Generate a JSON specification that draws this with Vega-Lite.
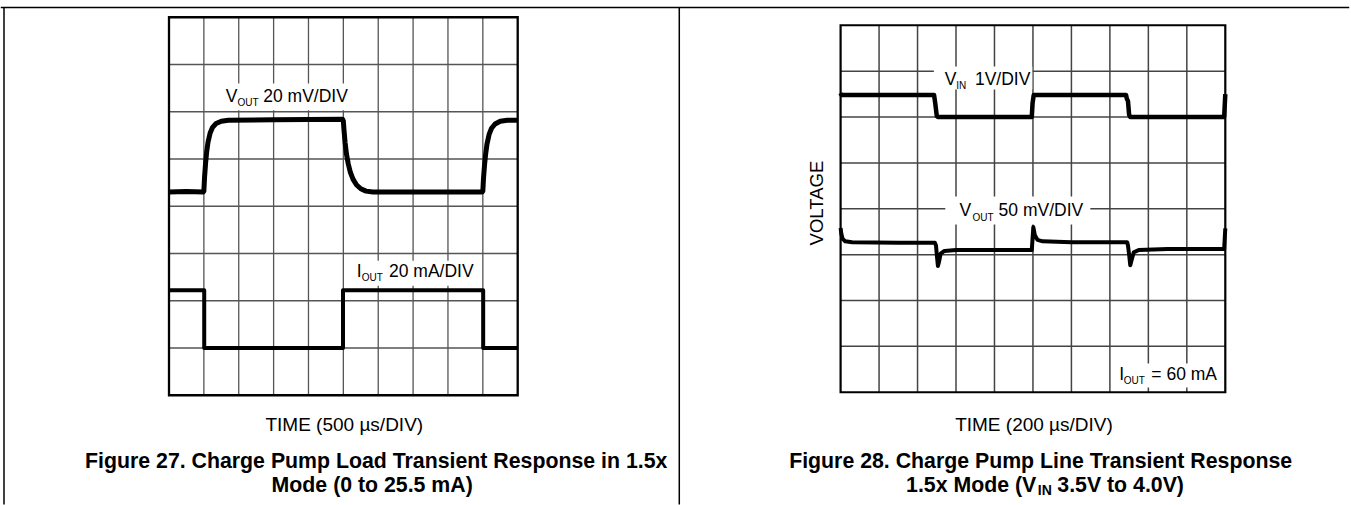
{
  "$schema": "https://vega.github.io/schema/vega-lite/v6.json",
  "padding": {"left": 0, "top": 6.25, "right": 0, "bottom": 0},
  "autosize": {"type": "pad"},
  "bounds": "flush",
  "spacing": 322.6,
  "background": "white",
  "config": {"view": {"stroke": null}, "font": "Liberation Sans"},
  "datasets": {
    "vg": [{"v": 1}, {"v": 2}, {"v": 3}, {"v": 4}, {"v": 5}, {"v": 6}, {"v": 7}, {"v": 8}, {"v": 9}],
    "hg": [{"v": 1}, {"v": 2}, {"v": 3}, {"v": 4}, {"v": 5}, {"v": 6}, {"v": 7}],
    "trL": [
      {"s": "V", "x": 0, "y": 4.30}, {"s": "V", "x": 0.5, "y": 4.31}, {"s": "V", "x": 0.98, "y": 4.30},
      {"s": "V", "x": 1.0, "y": 4.32}, {"s": "V", "x": 1.02, "y": 4.62}, {"s": "V", "x": 1.05, "y": 4.92},
      {"s": "V", "x": 1.08, "y": 5.15}, {"s": "V", "x": 1.12, "y": 5.36}, {"s": "V", "x": 1.18, "y": 5.55},
      {"s": "V", "x": 1.25, "y": 5.67}, {"s": "V", "x": 1.35, "y": 5.75}, {"s": "V", "x": 1.5, "y": 5.80},
      {"s": "V", "x": 1.7, "y": 5.82}, {"s": "V", "x": 3.0, "y": 5.83}, {"s": "V", "x": 4.98, "y": 5.84},
      {"s": "V", "x": 5.0, "y": 5.80}, {"s": "V", "x": 5.02, "y": 5.60}, {"s": "V", "x": 5.05, "y": 5.35},
      {"s": "V", "x": 5.09, "y": 5.10}, {"s": "V", "x": 5.14, "y": 4.90}, {"s": "V", "x": 5.2, "y": 4.72},
      {"s": "V", "x": 5.28, "y": 4.57}, {"s": "V", "x": 5.38, "y": 4.45}, {"s": "V", "x": 5.5, "y": 4.37},
      {"s": "V", "x": 5.65, "y": 4.32}, {"s": "V", "x": 5.85, "y": 4.30}, {"s": "V", "x": 7.5, "y": 4.30},
      {"s": "V", "x": 8.98, "y": 4.30}, {"s": "V", "x": 9.0, "y": 4.32}, {"s": "V", "x": 9.02, "y": 4.60},
      {"s": "V", "x": 9.05, "y": 4.88}, {"s": "V", "x": 9.08, "y": 5.10}, {"s": "V", "x": 9.12, "y": 5.32},
      {"s": "V", "x": 9.18, "y": 5.52}, {"s": "V", "x": 9.25, "y": 5.65}, {"s": "V", "x": 9.35, "y": 5.74},
      {"s": "V", "x": 9.5, "y": 5.80}, {"s": "V", "x": 9.7, "y": 5.82}, {"s": "V", "x": 10, "y": 5.82},
      {"s": "I", "x": 0, "y": 2.22}, {"s": "I", "x": 1.01, "y": 2.22}, {"s": "I", "x": 1.01, "y": 1.0},
      {"s": "I", "x": 4.99, "y": 1.0}, {"s": "I", "x": 4.99, "y": 2.22}, {"s": "I", "x": 9.01, "y": 2.22},
      {"s": "I", "x": 9.01, "y": 1.0}, {"s": "I", "x": 10, "y": 1.0}
    ],
    "trR": [
      {"s": "VIN", "x": 0, "y": 6.52}, {"s": "VIN", "x": 0.02, "y": 6.48}, {"s": "VIN", "x": 2.43, "y": 6.48},
      {"s": "VIN", "x": 2.46, "y": 6.30}, {"s": "VIN", "x": 2.5, "y": 6.02}, {"s": "VIN", "x": 2.53, "y": 6.0},
      {"s": "VIN", "x": 4.97, "y": 6.0}, {"s": "VIN", "x": 4.99, "y": 6.30}, {"s": "VIN", "x": 5.02, "y": 6.48},
      {"s": "VIN", "x": 7.42, "y": 6.48}, {"s": "VIN", "x": 7.44, "y": 6.40}, {"s": "VIN", "x": 7.47, "y": 6.35},
      {"s": "VIN", "x": 7.5, "y": 6.05}, {"s": "VIN", "x": 7.53, "y": 6.0}, {"s": "VIN", "x": 9.97, "y": 6.0},
      {"s": "VIN", "x": 10, "y": 6.5},
      {"s": "VOUT", "x": 0, "y": 3.58}, {"s": "VOUT", "x": 0.02, "y": 3.45}, {"s": "VOUT", "x": 0.05, "y": 3.35},
      {"s": "VOUT", "x": 0.12, "y": 3.29}, {"s": "VOUT", "x": 0.3, "y": 3.27}, {"s": "VOUT", "x": 1.5, "y": 3.26},
      {"s": "VOUT", "x": 2.45, "y": 3.26}, {"s": "VOUT", "x": 2.48, "y": 3.20}, {"s": "VOUT", "x": 2.5, "y": 3.0},
      {"s": "VOUT", "x": 2.53, "y": 2.75}, {"s": "VOUT", "x": 2.56, "y": 2.85}, {"s": "VOUT", "x": 2.6, "y": 3.02},
      {"s": "VOUT", "x": 2.7, "y": 3.08}, {"s": "VOUT", "x": 3.0, "y": 3.10}, {"s": "VOUT", "x": 4.97, "y": 3.10},
      {"s": "VOUT", "x": 4.99, "y": 3.35}, {"s": "VOUT", "x": 5.01, "y": 3.60}, {"s": "VOUT", "x": 5.05, "y": 3.42},
      {"s": "VOUT", "x": 5.12, "y": 3.32}, {"s": "VOUT", "x": 5.25, "y": 3.29}, {"s": "VOUT", "x": 6.0, "y": 3.27},
      {"s": "VOUT", "x": 7.45, "y": 3.27}, {"s": "VOUT", "x": 7.47, "y": 3.20}, {"s": "VOUT", "x": 7.5, "y": 3.0},
      {"s": "VOUT", "x": 7.53, "y": 2.77}, {"s": "VOUT", "x": 7.57, "y": 2.90}, {"s": "VOUT", "x": 7.62, "y": 3.05},
      {"s": "VOUT", "x": 7.75, "y": 3.10}, {"s": "VOUT", "x": 8.5, "y": 3.12}, {"s": "VOUT", "x": 9.97, "y": 3.12},
      {"s": "VOUT", "x": 10, "y": 3.57}
    ],
    "maskL": [
      {"x1": 1.55, "x2": 5.25, "y1": 6.03, "y2": 6.597},
      {"x1": 5.33, "x2": 8.89, "y1": 2.32, "y2": 2.847}
    ],
    "maskR": [
      {"x1": 2.425, "x2": 4.983, "y1": 6.6, "y2": 7.1},
      {"x1": 2.722, "x2": 6.491, "y1": 3.656, "y2": 4.266},
      {"x1": 7.14, "x2": 9.92, "y1": 0.102, "y2": 0.626}
    ],
    "textL": [
      {"k": "main", "x": 1.626, "y": 6.216, "t": "V"},
      {"k": "sub", "x": 1.964, "y": 6.13, "t": "OUT"},
      {"k": "main", "x": 2.704, "y": 6.216, "t": "20 mV/DIV"},
      {"k": "main", "x": 5.383, "y": 2.497, "t": "I"},
      {"k": "sub", "x": 5.529, "y": 2.413, "t": "OUT"},
      {"k": "main", "x": 6.309, "y": 2.497, "t": "20 mA/DIV"},
      {"k": "time", "x": 5.027, "y": -0.762, "t": "TIME (500 µs/DIV)"},
      {"k": "cap", "x": 5.942, "y": -1.537, "t": "Figure 27. Charge Pump Load Transient Response in 1.5x"},
      {"k": "cap", "x": 5.827, "y": -2.053, "t": "Mode (0 to 25.5 mA)"}
    ],
    "textR": [
      {"k": "main", "x": 2.706, "y": 6.707, "t": "V"},
      {"k": "sub", "x": 3.008, "y": 6.62, "t": "IN"},
      {"k": "main", "x": 3.491, "y": 6.707, "t": "1V/DIV"},
      {"k": "main", "x": 3.093, "y": 3.837, "t": "V"},
      {"k": "sub", "x": 3.431, "y": 3.743, "t": "OUT"},
      {"k": "main", "x": 4.107, "y": 3.837, "t": "50 mV/DIV"},
      {"k": "main", "x": 7.245, "y": 0.277, "t": "I"},
      {"k": "sub", "x": 7.362, "y": 0.183, "t": "OUT"},
      {"k": "main", "x": 8.077, "y": 0.277, "t": "= 60 mA"},
      {"k": "time", "x": 5.027, "y": -0.835, "t": "TIME (200 µs/DIV)"},
      {"k": "cap", "x": 5.2, "y": -1.648, "t": "Figure 28. Charge Pump Line Transient Response"},
      {"k": "capend", "x": 5.0858, "y": -2.18, "t": "1.5x Mode (V"},
      {"k": "capsub", "x": 5.126, "y": -2.237, "t": "IN"},
      {"k": "capstart", "x": 5.633, "y": -2.18, "t": "3.5V to 4.0V)"},
      {"k": "ylab", "x": -0.606, "y": 4.124, "t": "VOLTAGE"}
    ]
  },
  "hconcat": [
    {
      "width": 348.7,
      "height": 378,
      "layer": [
        {"data": {"name": "vg"}, "mark": {"type": "rule", "color": "#555", "strokeWidth": 1.3},
         "encoding": {"x": {"field": "v", "type": "quantitative", "scale": {"domain": [0, 10], "nice": false, "zero": false}, "axis": null},
                      "y": {"datum": 0, "type": "quantitative", "scale": {"domain": [0, 8], "nice": false, "zero": false}, "axis": null},
                      "y2": {"datum": 8}}},
        {"data": {"name": "hg"}, "mark": {"type": "rule", "color": "#555", "strokeWidth": 1.3},
         "encoding": {"y": {"field": "v", "type": "quantitative", "scale": {"domain": [0, 8], "nice": false, "zero": false}, "axis": null},
                      "x": {"datum": 0, "type": "quantitative", "scale": {"domain": [0, 10], "nice": false, "zero": false}, "axis": null},
                      "x2": {"datum": 10}}},
        {"data": {"name": "maskL"}, "mark": {"type": "rect", "color": "white"},
         "encoding": {"x": {"field": "x1", "type": "quantitative", "scale": {"domain": [0, 10], "nice": false, "zero": false}, "axis": null},
                      "x2": {"field": "x2"},
                      "y": {"field": "y1", "type": "quantitative", "scale": {"domain": [0, 8], "nice": false, "zero": false}, "axis": null},
                      "y2": {"field": "y2"}}},
        {"data": {"values": [{}]}, "mark": {"type": "rect", "filled": false, "stroke": "black", "strokeWidth": 2.3},
         "encoding": {"x": {"datum": 0, "type": "quantitative", "scale": {"domain": [0, 10], "nice": false, "zero": false}, "axis": null},
                      "x2": {"datum": 10},
                      "y": {"datum": 0, "type": "quantitative", "scale": {"domain": [0, 8], "nice": false, "zero": false}, "axis": null},
                      "y2": {"datum": 8}}},
        {"data": {"name": "trL"}, "transform": [{"filter": "datum.s == 'V'"}],
         "mark": {"type": "line", "color": "black", "strokeWidth": 5, "strokeJoin": "round"},
         "encoding": {"x": {"field": "x", "type": "quantitative", "scale": {"domain": [0, 10], "nice": false, "zero": false}, "axis": null},
                      "y": {"field": "y", "type": "quantitative", "scale": {"domain": [0, 8], "nice": false, "zero": false}, "axis": null},
                      "order": {"value": null}}},
        {"data": {"name": "trL"}, "transform": [{"filter": "datum.s == 'I'"}],
         "mark": {"type": "line", "color": "black", "strokeWidth": 4, "strokeJoin": "round"},
         "encoding": {"x": {"field": "x", "type": "quantitative", "scale": {"domain": [0, 10], "nice": false, "zero": false}, "axis": null},
                      "y": {"field": "y", "type": "quantitative", "scale": {"domain": [0, 8], "nice": false, "zero": false}, "axis": null},
                      "order": {"value": null}}},
        {"data": {"name": "textL"}, "transform": [{"filter": "datum.k == 'main'"}],
         "mark": {"type": "text", "align": "left", "baseline": "alphabetic", "fontSize": 17.5, "color": "black"},
         "encoding": {"x": {"field": "x", "type": "quantitative", "scale": {"domain": [0, 10], "nice": false, "zero": false}, "axis": null},
                      "y": {"field": "y", "type": "quantitative", "scale": {"domain": [0, 8], "nice": false, "zero": false}, "axis": null},
                      "text": {"field": "t"}}},
        {"data": {"name": "textL"}, "transform": [{"filter": "datum.k == 'sub'"}],
         "mark": {"type": "text", "align": "left", "baseline": "alphabetic", "fontSize": 10, "color": "black"},
         "encoding": {"x": {"field": "x", "type": "quantitative", "scale": {"domain": [0, 10], "nice": false, "zero": false}, "axis": null},
                      "y": {"field": "y", "type": "quantitative", "scale": {"domain": [0, 8], "nice": false, "zero": false}, "axis": null},
                      "text": {"field": "t"}}},
        {"data": {"name": "textL"}, "transform": [{"filter": "datum.k == 'time'"}],
         "mark": {"type": "text", "align": "center", "baseline": "alphabetic", "fontSize": 19, "color": "black"},
         "encoding": {"x": {"field": "x", "type": "quantitative", "scale": {"domain": [0, 10], "nice": false, "zero": false}, "axis": null},
                      "y": {"field": "y", "type": "quantitative", "scale": {"domain": [0, 8], "nice": false, "zero": false}, "axis": null},
                      "text": {"field": "t"}}},
        {"data": {"name": "textL"}, "transform": [{"filter": "datum.k == 'cap'"}],
         "mark": {"type": "text", "align": "center", "baseline": "alphabetic", "fontSize": 21.3, "fontWeight": "bold", "color": "black"},
         "encoding": {"x": {"field": "x", "type": "quantitative", "scale": {"domain": [0, 10], "nice": false, "zero": false}, "axis": null},
                      "y": {"field": "y", "type": "quantitative", "scale": {"domain": [0, 8], "nice": false, "zero": false}, "axis": null},
                      "text": {"field": "t"}}},
        {"data": {"values": [{}]}, "mark": {"type": "rule", "color": "black", "strokeWidth": 1.5},
         "encoding": {"x": {"datum": -4.825, "type": "quantitative", "scale": {"domain": [0, 10], "nice": false, "zero": false}, "axis": null},
                      "x2": {"datum": 33.847},
                      "y": {"datum": 8.2053, "type": "quantitative", "scale": {"domain": [0, 8], "nice": false, "zero": false}, "axis": null}}},
        {"data": {"values": [{}]}, "mark": {"type": "rule", "color": "black", "strokeWidth": 1.5},
         "encoding": {"x": {"datum": -4.732, "type": "quantitative", "scale": {"domain": [0, 10], "nice": false, "zero": false}, "axis": null},
                      "y": {"datum": 8.2053, "type": "quantitative", "scale": {"domain": [0, 8], "nice": false, "zero": false}, "axis": null},
                      "y2": {"datum": -2.3132}}},
        {"data": {"values": [{}]}, "mark": {"type": "rule", "color": "black", "strokeWidth": 1.5},
         "encoding": {"x": {"datum": 14.634, "type": "quantitative", "scale": {"domain": [0, 10], "nice": false, "zero": false}, "axis": null},
                      "y": {"datum": 8.2053, "type": "quantitative", "scale": {"domain": [0, 8], "nice": false, "zero": false}, "axis": null},
                      "y2": {"datum": -2.3132}}}
      ]
    },
    {
      "width": 384.7,
      "height": 378,
      "layer": [
        {"data": {"name": "vg"}, "mark": {"type": "rule", "color": "#444", "strokeWidth": 1.5},
         "encoding": {"x": {"field": "v", "type": "quantitative", "scale": {"domain": [0, 10], "nice": false, "zero": false}, "axis": null},
                      "y": {"datum": 0, "type": "quantitative", "scale": {"domain": [-0.0654, 8.1744], "nice": false, "zero": false}, "axis": null},
                      "y2": {"datum": 8}}},
        {"data": {"name": "hg"}, "mark": {"type": "rule", "color": "#444", "strokeWidth": 1.5},
         "encoding": {"y": {"field": "v", "type": "quantitative", "scale": {"domain": [-0.0654, 8.1744], "nice": false, "zero": false}, "axis": null},
                      "x": {"datum": 0, "type": "quantitative", "scale": {"domain": [0, 10], "nice": false, "zero": false}, "axis": null},
                      "x2": {"datum": 10}}},
        {"data": {"name": "maskR"}, "mark": {"type": "rect", "color": "white"},
         "encoding": {"x": {"field": "x1", "type": "quantitative", "scale": {"domain": [0, 10], "nice": false, "zero": false}, "axis": null},
                      "x2": {"field": "x2"},
                      "y": {"field": "y1", "type": "quantitative", "scale": {"domain": [-0.0654, 8.1744], "nice": false, "zero": false}, "axis": null},
                      "y2": {"field": "y2"}}},
        {"data": {"values": [{}]}, "mark": {"type": "rect", "filled": false, "stroke": "black", "strokeWidth": 2.2},
         "encoding": {"x": {"datum": 0, "type": "quantitative", "scale": {"domain": [0, 10], "nice": false, "zero": false}, "axis": null},
                      "x2": {"datum": 10},
                      "y": {"datum": 0, "type": "quantitative", "scale": {"domain": [-0.0654, 8.1744], "nice": false, "zero": false}, "axis": null},
                      "y2": {"datum": 8}}},
        {"data": {"name": "trR"}, "transform": [{"filter": "datum.s == 'VIN'"}],
         "mark": {"type": "line", "color": "black", "strokeWidth": 4.5, "strokeJoin": "round"},
         "encoding": {"x": {"field": "x", "type": "quantitative", "scale": {"domain": [0, 10], "nice": false, "zero": false}, "axis": null},
                      "y": {"field": "y", "type": "quantitative", "scale": {"domain": [-0.0654, 8.1744], "nice": false, "zero": false}, "axis": null},
                      "order": {"value": null}}},
        {"data": {"name": "trR"}, "transform": [{"filter": "datum.s == 'VOUT'"}],
         "mark": {"type": "line", "color": "black", "strokeWidth": 4, "strokeJoin": "round"},
         "encoding": {"x": {"field": "x", "type": "quantitative", "scale": {"domain": [0, 10], "nice": false, "zero": false}, "axis": null},
                      "y": {"field": "y", "type": "quantitative", "scale": {"domain": [-0.0654, 8.1744], "nice": false, "zero": false}, "axis": null},
                      "order": {"value": null}}},
        {"data": {"name": "textR"}, "transform": [{"filter": "datum.k == 'main'"}],
         "mark": {"type": "text", "align": "left", "baseline": "alphabetic", "fontSize": 17.5, "color": "black"},
         "encoding": {"x": {"field": "x", "type": "quantitative", "scale": {"domain": [0, 10], "nice": false, "zero": false}, "axis": null},
                      "y": {"field": "y", "type": "quantitative", "scale": {"domain": [-0.0654, 8.1744], "nice": false, "zero": false}, "axis": null},
                      "text": {"field": "t"}}},
        {"data": {"name": "textR"}, "transform": [{"filter": "datum.k == 'sub'"}],
         "mark": {"type": "text", "align": "left", "baseline": "alphabetic", "fontSize": 10, "color": "black"},
         "encoding": {"x": {"field": "x", "type": "quantitative", "scale": {"domain": [0, 10], "nice": false, "zero": false}, "axis": null},
                      "y": {"field": "y", "type": "quantitative", "scale": {"domain": [-0.0654, 8.1744], "nice": false, "zero": false}, "axis": null},
                      "text": {"field": "t"}}},
        {"data": {"name": "textR"}, "transform": [{"filter": "datum.k == 'time'"}],
         "mark": {"type": "text", "align": "center", "baseline": "alphabetic", "fontSize": 19, "color": "black"},
         "encoding": {"x": {"field": "x", "type": "quantitative", "scale": {"domain": [0, 10], "nice": false, "zero": false}, "axis": null},
                      "y": {"field": "y", "type": "quantitative", "scale": {"domain": [-0.0654, 8.1744], "nice": false, "zero": false}, "axis": null},
                      "text": {"field": "t"}}},
        {"data": {"name": "textR"}, "transform": [{"filter": "datum.k == 'ylab'"}],
         "mark": {"type": "text", "align": "center", "baseline": "middle", "angle": 270, "fontSize": 18.5, "color": "black"},
         "encoding": {"x": {"field": "x", "type": "quantitative", "scale": {"domain": [0, 10], "nice": false, "zero": false}, "axis": null},
                      "y": {"field": "y", "type": "quantitative", "scale": {"domain": [-0.0654, 8.1744], "nice": false, "zero": false}, "axis": null},
                      "text": {"field": "t"}}},
        {"data": {"name": "textR"}, "transform": [{"filter": "datum.k == 'cap'"}],
         "mark": {"type": "text", "align": "center", "baseline": "alphabetic", "fontSize": 21.3, "fontWeight": "bold", "color": "black"},
         "encoding": {"x": {"field": "x", "type": "quantitative", "scale": {"domain": [0, 10], "nice": false, "zero": false}, "axis": null},
                      "y": {"field": "y", "type": "quantitative", "scale": {"domain": [-0.0654, 8.1744], "nice": false, "zero": false}, "axis": null},
                      "text": {"field": "t"}}},
        {"data": {"name": "textR"}, "transform": [{"filter": "datum.k == 'capend'"}],
         "mark": {"type": "text", "align": "right", "baseline": "alphabetic", "fontSize": 21.3, "fontWeight": "bold", "color": "black"},
         "encoding": {"x": {"field": "x", "type": "quantitative", "scale": {"domain": [0, 10], "nice": false, "zero": false}, "axis": null},
                      "y": {"field": "y", "type": "quantitative", "scale": {"domain": [-0.0654, 8.1744], "nice": false, "zero": false}, "axis": null},
                      "text": {"field": "t"}}},
        {"data": {"name": "textR"}, "transform": [{"filter": "datum.k == 'capsub'"}],
         "mark": {"type": "text", "align": "left", "baseline": "alphabetic", "fontSize": 14, "fontWeight": "bold", "color": "black"},
         "encoding": {"x": {"field": "x", "type": "quantitative", "scale": {"domain": [0, 10], "nice": false, "zero": false}, "axis": null},
                      "y": {"field": "y", "type": "quantitative", "scale": {"domain": [-0.0654, 8.1744], "nice": false, "zero": false}, "axis": null},
                      "text": {"field": "t"}}},
        {"data": {"name": "textR"}, "transform": [{"filter": "datum.k == 'capstart'"}],
         "mark": {"type": "text", "align": "left", "baseline": "alphabetic", "fontSize": 21.3, "fontWeight": "bold", "color": "black"},
         "encoding": {"x": {"field": "x", "type": "quantitative", "scale": {"domain": [0, 10], "nice": false, "zero": false}, "axis": null},
                      "y": {"field": "y", "type": "quantitative", "scale": {"domain": [-0.0654, 8.1744], "nice": false, "zero": false}, "axis": null},
                      "text": {"field": "t"}}}
      ]
    }
  ]
}
